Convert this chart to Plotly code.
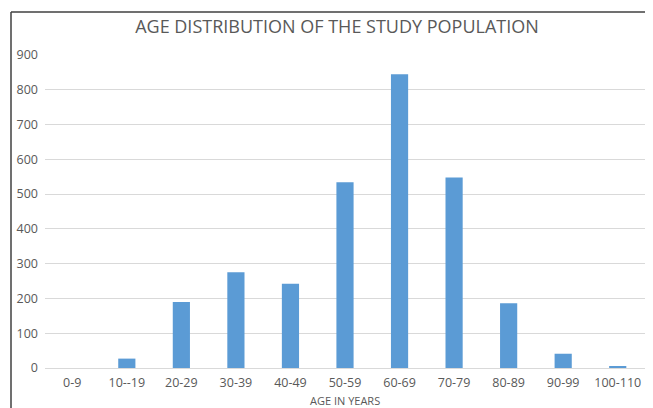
import plotly.graph_objects as go

categories = ["0-9", "10--19", "20-29", "30-39", "40-49", "50-59",
              "60-69", "70-79", "80-89", "90-99", "100-110"]
counts = [0, 27, 190, 275, 242, 534, 845, 548, 186, 41, 3]
y_ticks = [0, 100, 200, 300, 400, 500, 600, 700, 800, 900]

title_text = "AGE DISTRIBUTION OF THE STUDY POPULATION"
x_title = "AGE IN YEARS"

FONT = "Open Sans"
GRAY = "#595959"
# page body adds an 8px margin to the figure's position
W, H = 637, 400
L, R, T, B = 37, 0, 47, 40
PW, PH = W - L - R, H - T - B

fig = go.Figure(go.Bar(
    x=categories, y=counts,
    marker=dict(color="#5B9BD5", line=dict(width=0)),
    width=0.315,
))

fig.update_layout(
    width=W, height=H,
    margin=dict(l=L, r=R, t=T, b=B, autoexpand=False),
    paper_bgcolor="white", plot_bgcolor="white",
    showlegend=False,
    font=dict(family=FONT, color=GRAY, size=12),
    title=dict(text=title_text, x=329 / W, xref="container", xanchor="center",
               y=1 - 19 / H, yref="container", yanchor="middle",
               font=dict(family=FONT, size=18, color=GRAY)),
)
fig.update_xaxes(
    range=[-0.5, 10.5], showgrid=False, showline=True, linecolor="#D9D9D9",
    linewidth=1, ticks="", tickfont=dict(size=12.5, color=GRAY, family=FONT),
    ticklabelstandoff=3, automargin=False,
)
fig.update_yaxes(
    range=[0, 900], tickvals=y_ticks, showgrid=True, gridcolor="#D9D9D9",
    gridwidth=1, zeroline=False, showline=False, ticks="",
    tickfont=dict(size=12.5, color=GRAY, family=FONT), ticklabelstandoff=6,
    automargin=False,
)
fig.add_annotation(text=x_title, x=0.5, xref="paper", y=(PH + T - 392) / PH,
                   yref="paper", yanchor="middle", showarrow=False,
                   font=dict(size=11, color=GRAY, family=FONT))
# outer chart border: only its left and top edges are visible in the crop
fig.add_shape(type="line", xref="paper", yref="paper",
              x0=(3 - L) / PW, x1=(3 - L) / PW, y0=-0.3, y1=(PH + T - 4) / PH,
              line=dict(color="#404040", width=1.5), layer="above")
fig.add_shape(type="line", xref="paper", yref="paper",
              x0=(3 - L) / PW, x1=1.1, y0=(PH + T - 4) / PH, y1=(PH + T - 4) / PH,
              line=dict(color="#404040", width=1.5), layer="above")

fig.write_html("out.html")
